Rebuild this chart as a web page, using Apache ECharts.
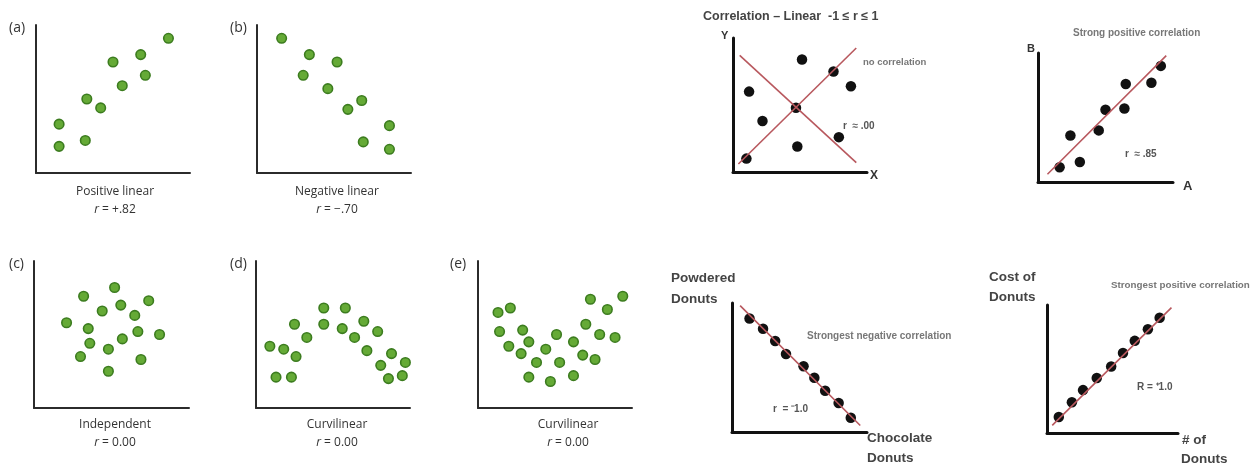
<!DOCTYPE html>
<html>
<head>
<meta charset="utf-8">
<script src="https://cdn.jsdelivr.net/npm/echarts@6/dist/echarts.min.js"></script>
<style>html,body{margin:0;padding:0;background:#fff}#c{width:1251px;height:464px}</style>
</head>
<body>
<div id="c"></div>
<script>
// ---- data (each panel on a 0..10 scale) ----
var posLinear = [[1.5,3.3],[1.5,1.8],[3.2,2.2],[3.3,5.0],[4.2,4.4],[5.0,7.5],[5.6,5.9],[6.8,8.0],[7.1,6.6],[8.6,9.1]];
var negLinear = [[1.6,9.1],[3.4,8.0],[5.2,7.5],[3.0,6.6],[4.6,5.7],[6.8,4.9],[5.9,4.3],[8.6,3.2],[6.9,2.1],[8.6,1.6]];
var independent = [[5.2,8.2],[3.2,7.6],[7.4,7.3],[4.4,6.6],[5.6,7.0],[6.5,6.3],[2.1,5.8],[3.5,5.4],[6.7,5.2],[8.1,5.0],[5.7,4.7],[3.6,4.4],[4.8,4.0],[3.0,3.5],[6.9,3.3],[4.8,2.5]];
var curvilinearD = [[4.4,6.8],[5.8,6.8],[2.5,5.7],[4.4,5.7],[5.6,5.4],[7.0,5.9],[7.9,5.2],[3.3,4.8],[6.4,4.8],[0.9,4.2],[1.8,4.0],[7.2,3.9],[8.8,3.7],[2.6,3.5],[9.7,3.1],[8.1,2.9],[1.3,2.1],[2.3,2.1],[8.6,2.0],[9.5,2.2]];
var curvilinearE = [[1.3,6.5],[2.1,6.8],[7.3,7.4],[9.4,7.6],[8.4,6.7],[1.4,5.2],[2.9,5.3],[7.0,5.7],[3.3,4.5],[5.1,5.0],[7.9,5.0],[8.9,4.8],[2.0,4.2],[4.4,4.0],[6.2,4.5],[2.8,3.7],[6.8,3.6],[3.8,3.1],[5.3,3.1],[7.6,3.3],[3.3,2.1],[4.7,1.8],[6.2,2.2]];
var noCorr = [[5.15,8.4],[7.5,7.5],[8.8,6.4],[1.2,6.0],[4.7,4.8],[2.2,3.8],[7.9,2.6],[4.8,1.9],[1.0,1.0]];
var noCorrLineA = [[0.5,8.7],[9.2,0.7]];
var noCorrLineB = [[0.4,0.6],[9.2,9.25]];
var strongPos = [[9.1,9.0],[6.5,7.6],[8.4,7.7],[5.0,5.6],[6.4,5.7],[4.5,4.0],[2.4,3.6],[3.1,1.55],[1.6,1.15]];
var strongPosLine = [[0.7,0.6],[9.5,9.8]];
var perfectNeg = [[1.3,8.8],[2.3,8.0],[3.2,7.05],[4.0,6.05],[5.3,5.1],[6.1,4.2],[6.9,3.2],[7.9,2.25],[8.8,1.1]];
var perfectNegLine = [[0.6,9.8],[9.5,0.5]];
var perfectPos = [[0.9,1.25],[1.9,2.4],[2.75,3.35],[3.8,4.3],[4.9,5.2],[5.8,6.25],[6.7,7.2],[7.7,8.1],[8.6,9.0]];
var perfectPosLine = [[0.4,0.6],[9.5,9.8]];

// ---- layout ----
var panels = [
  {g:{left:36,top:25,width:154,height:148}, kind:'green', data:posLinear},
  {g:{left:257,top:25,width:154,height:148}, kind:'green', data:negLinear},
  {g:{left:34,top:261,width:155,height:147}, kind:'green', data:independent},
  {g:{left:256,top:261,width:154,height:147}, kind:'green', data:curvilinearD},
  {g:{left:478,top:261,width:154,height:147}, kind:'green', data:curvilinearE},
  {g:{left:733,top:38,width:134,height:134}, kind:'black', data:noCorr, lines:[noCorrLineA,noCorrLineB]},
  {g:{left:1038,top:53,width:135,height:129}, kind:'black', data:strongPos, lines:[strongPosLine]},
  {g:{left:732,top:303,width:135,height:129}, kind:'black', data:perfectNeg, lines:[perfectNegLine]},
  {g:{left:1047,top:305,width:131,height:128}, kind:'black', data:perfectPos, lines:[perfectPosLine]}
];

var grids=[],xAxes=[],yAxes=[],series=[];
panels.forEach(function(p,i){
  grids.push(Object.assign({containLabel:false}, p.g));
  var lc = p.kind==='green' ? '#2b2b2b' : '#111';
  var lw = p.kind==='green' ? 2 : 3;
  var ax = {gridIndex:i,type:'value',min:0,max:10,splitLine:{show:false},axisTick:{show:false},axisLabel:{show:false},
    axisLine:{show:true,onZero:false,lineStyle:{color:lc,width:lw}}};
  xAxes.push(Object.assign({},ax));
  yAxes.push(Object.assign({},ax));
  (p.lines||[]).forEach(function(l){
    series.push({type:'line',xAxisIndex:i,yAxisIndex:i,data:l,symbol:'none',silent:true,z:3,
      lineStyle:{color:'#b8585e',width:1.6},animation:false});
  });
  if(p.kind==='green'){
    series.push({type:'scatter',xAxisIndex:i,yAxisIndex:i,data:p.data,symbolSize:9.5,z:4,animation:false,
      itemStyle:{color:'#65aa36',borderColor:'#3c7c1f',borderWidth:1.6,opacity:1}});
  } else {
    series.push({type:'scatter',xAxisIndex:i,yAxisIndex:i,data:p.data,symbolSize:10.5,z:2,animation:false,
      itemStyle:{color:'#111',opacity:1}});
  }
});

var lf = '"Open Sans","Noto Sans",sans-serif';
function lt(x,y,t){return {type:'text',left:x,top:y,style:{text:t,font:'14px '+lf,fill:'#333'}};}
function cap(cx,y,t){return {type:'text',x:cx,y:y,style:{text:t,font:'12px '+lf,fill:'#333',align:'center',verticalAlign:'middle'}};}
function rcap(cx,y,v){return {type:'text',x:cx,y:y,style:{text:'{i|r} = '+v,font:'12px '+lf,fill:'#333',align:'center',verticalAlign:'middle',
  rich:{i:{fontStyle:'italic',font:'italic 12px '+lf,fill:'#333'}}}};}
function rt(x,y,t,size,col,w){return {type:'text',x:x,y:y,style:{text:t,font:(w||'bold')+' '+size+'px "Liberation Sans",Arial,sans-serif',fill:col,verticalAlign:'middle'}};}

var graphics = [
  lt(9,21,'(a)'), lt(230,21,'(b)'), lt(9,257,'(c)'), lt(230,257,'(d)'), lt(450,257,'(e)'),
  cap(115,192,'Positive linear'), rcap(115,210,'+.82'),
  cap(337,192,'Negative linear'), rcap(337,210,'−.70'),
  cap(115,425,'Independent'), rcap(115,443,'0.00'),
  cap(337,425,'Curvilinear'), rcap(337,443,'0.00'),
  cap(568,425,'Curvilinear'), rcap(568,443,'0.00'),
  rt(703,17,'Correlation – Linear  -1 ≤ r ≤ 1',12.5,'#444'),
  rt(721,36,'Y',11,'#333'),
  rt(870,176,'X',12,'#333'),
  rt(863,62,'no correlation',9.5,'#777'),
  rt(843,126,'r  ≈ .00',10,'#555'),
  rt(1073,33,'Strong positive correlation',10,'#777'),
  rt(1027,49,'B',11,'#333'),
  rt(1183,186,'A',13,'#333'),
  rt(1125,154,'r  ≈ .85',10,'#555'),
  rt(671,278,'Powdered',13.5,'#444'),
  rt(671,299,'Donuts',13.5,'#444'),
  rt(867,438,'Chocolate',13.5,'#444'),
  rt(867,458,'Donuts',13.5,'#444'),
  rt(807,336,'Strongest negative correlation',10,'#777'),
  rt(773,409,'r  = ⁻1.0',10,'#555'),
  rt(989,277,'Cost of',13.5,'#444'),
  rt(989,297,'Donuts',13.5,'#444'),
  rt(1182,440,'# of',13.5,'#444'),
  rt(1181,459,'Donuts',13.5,'#444'),
  rt(1111,285,'Strongest positive correlation',9.8,'#777'),
  rt(1137,387,'R = ⁺1.0',10,'#555')
];

var chart = echarts.init(document.getElementById('c'),null,{renderer:'canvas'});
chart.setOption({
  animation:false,
  backgroundColor:'#fff',
  grid:grids, xAxis:xAxes, yAxis:yAxes, series:series,
  graphic:graphics
});
</script>
</body>
</html>
